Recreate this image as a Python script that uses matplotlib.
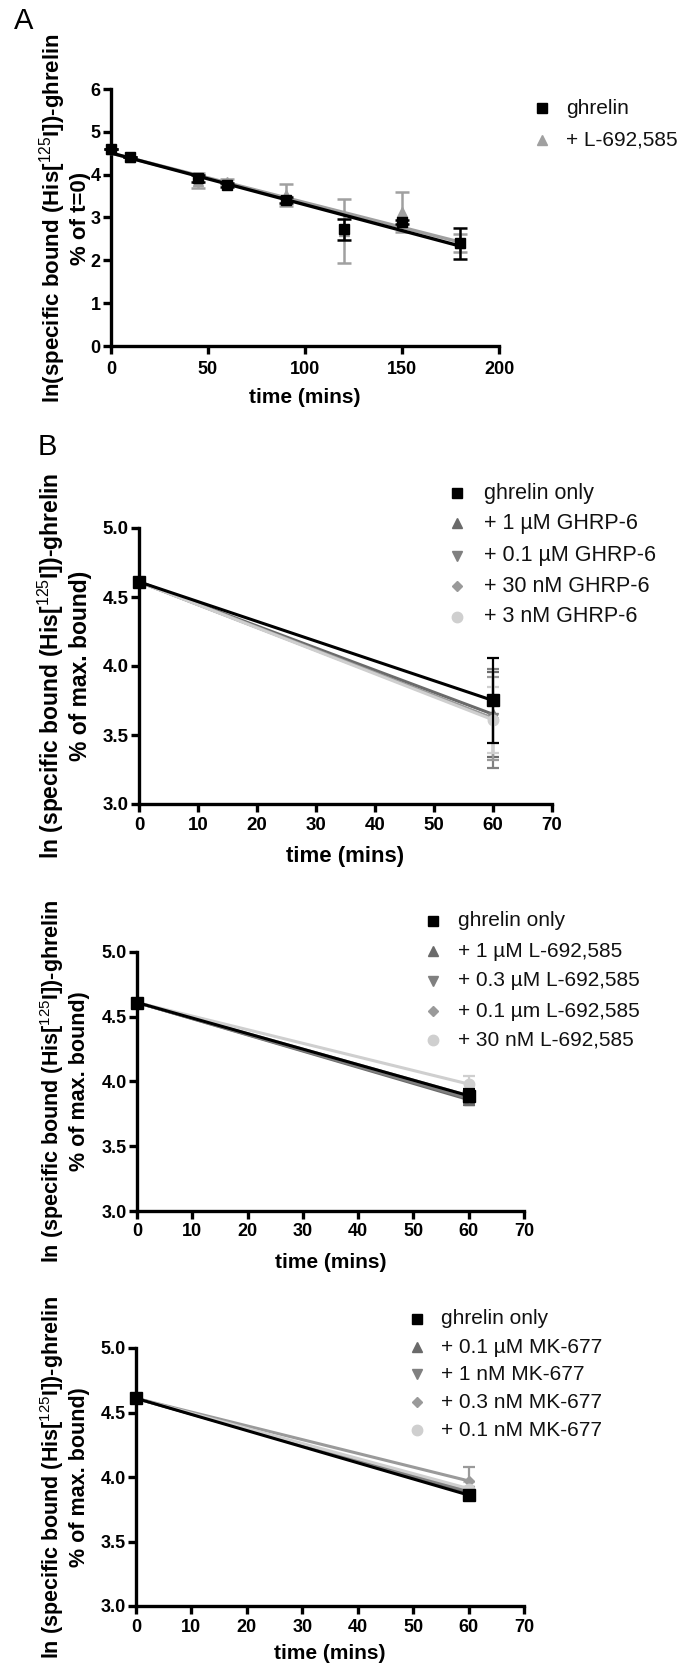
import numpy as np
import matplotlib.pyplot as plt
from matplotlib.lines import Line2D
from matplotlib.ticker import FormatStrFormatter, MultipleLocator

plt.rcParams["font.family"] = ["Liberation Sans", "DejaVu Sans"]
plt.rcParams["mathtext.fontset"] = "custom"
plt.rcParams["mathtext.rm"] = "Liberation Sans"
plt.rcParams["mathtext.it"] = "Liberation Sans:italic"
plt.rcParams["mathtext.bf"] = "Liberation Sans:bold"

W, H = 684, 1667

# --- panel A: ghrelin dissociation over 3 h ---
time_a = [0, 10, 45, 60, 90, 120, 150, 180]
ghrelin_a = [4.60, 4.42, 3.92, 3.76, 3.41, 2.73, 2.90, 2.40]
ghrelin_a_err = [0.0, 0.0, 0.08, 0.04, 0.08, 0.245, 0.05, 0.365]
l692_a = [4.60, 4.42, 3.86, 3.84, 3.52, 2.69, 3.12, 2.41]
l692_a_err = [0.0, 0.0, 0.17, 0.05, 0.26, 0.745, 0.47, 0.21]
labels_a = ["ghrelin", "+ L-692,585"]

# --- panel B: single 60 min time point, three secretagogues ---
time_b = [0, 60]

ghrp6_labels = ["ghrelin only", "+ 1 \u00b5M GHRP-6", "+ 0.1 \u00b5M GHRP-6",
                "+ 30 nM GHRP-6", "+ 3 nM GHRP-6"]
ghrp6_means = [[4.61, 3.75], [4.61, 3.65], [4.61, 3.62], [4.61, 3.62], [4.61, 3.61]]
ghrp6_errs = [[0, 0.305], [0, 0.31], [0, 0.36], [0, 0.30], [0, 0.24]]

l692_labels = ["ghrelin only", "+ 1 \u00b5M L-692,585", "+ 0.3 \u00b5M L-692,585",
               "+ 0.1 \u00b5m L-692,585", "+ 30 nM L-692,585"]
l692_means = [[4.61, 3.89], [4.61, 3.86], [4.61, 3.87], [4.61, 3.89], [4.61, 3.98]]
l692_errs = [[0, 0.05], [0, 0.04], [0, 0.04], [0, 0.03], [0, 0.06]]

mk677_labels = ["ghrelin only", "+ 0.1 \u00b5M MK-677", "+ 1 nM MK-677",
                "+ 0.3 nM MK-677", "+ 0.1 nM MK-677"]
mk677_means = [[4.61, 3.86], [4.61, 3.88], [4.61, 3.89], [4.61, 3.97], [4.61, 3.91]]
mk677_errs = [[0, 0.02], [0, 0.03], [0, 0.03], [0, 0.11], [0, 0.05]]

markers_b = ["s", "^", "v", "D", "o"]
colors_b = ["#000000", "#6a6a6a", "#808080", "#9a9a9a", "#cfcfcf"]
sizes_b = [8, 7, 7, 5.5, 7.5]

ylabel_a = "ln(specific bound (His[$^{125}$I])-ghrelin\n% of t=0)"
ylabel_b = "ln (specific bound (His[$^{125}$I])-ghrelin\n% of max. bound)"


def px_axes(fig, x0, y0, x1, y1):
    return fig.add_axes([x0 / W, 1 - y1 / H, (x1 - x0) / W, (y1 - y0) / H])


def style_axes(ax, tick_size, xpad=3):
    for side in ("top", "right"):
        ax.spines[side].set_visible(False)
    for side in ("left", "bottom"):
        ax.spines[side].set_linewidth(2.4)
    ax.tick_params(direction="out", length=6, width=2.4, labelsize=tick_size)
    ax.tick_params(axis="x", pad=xpad)
    ax.tick_params(axis="y", pad=1.5)
    for lab in ax.get_xticklabels() + ax.get_yticklabels():
        lab.set_fontweight("bold")


def draw_key(fig, x_mark, x_text, rows, labels, markers, colors, sizes, fontsize):
    for y, lab, m, c, s in zip(rows, labels, markers, colors, sizes):
        fig.add_artist(Line2D([x_mark / W], [1 - y / H], marker=m, markersize=s,
                              color=c, markeredgecolor=c, linestyle="none",
                              transform=fig.transFigure))
        fig.text(x_text / W, 1 - y / H, lab, fontsize=fontsize,
                 ha="left", va="center", color="#111111")


def ylabel_text(fig, x, y, text, size):
    fig.text(x / W, 1 - y / H, text, rotation=90, ha="center", va="center",
             multialignment="center", fontsize=size, fontweight="bold",
             linespacing=1.15)


def panel_b(fig, box, means, errs, labels, key, label_x, fs, xlabelpad):
    ax = px_axes(fig, *box)
    order = [1, 2, 3, 4, 0]
    for i in order:
        ax.errorbar(time_b, means[i], yerr=errs[i], color=colors_b[i],
                    marker=markers_b[i], markersize=sizes_b[i],
                    markeredgecolor=colors_b[i], linewidth=2.2,
                    elinewidth=1.6, capsize=4.5, capthick=1.6,
                    clip_on=False, zorder=3 + (i == 0))
    ax.set_xlim(0, 70)
    ax.set_ylim(3.0, 5.0)
    ax.xaxis.set_major_locator(MultipleLocator(10))
    ax.yaxis.set_major_locator(MultipleLocator(0.5))
    ax.yaxis.set_major_formatter(FormatStrFormatter("%.1f"))
    style_axes(ax, fs["tick"])
    ax.set_xlabel("time (mins)", fontsize=fs["xlabel"], fontweight="bold",
                  labelpad=xlabelpad)
    ylabel_text(fig, label_x, (box[1] + box[3]) / 2, ylabel_b, fs["ylabel"])
    draw_key(fig, key[0], key[1], key[2], labels, markers_b, colors_b,
             [7.5, 7, 7, 5.5, 7.5], fs["key"])
    return ax


fig = plt.figure(figsize=(W / 100, H / 100), dpi=100)

# panel A
ax_a = px_axes(fig, 111, 89, 499, 346)
t_fit = np.array([0, 180])
fit_gray = np.polyfit(time_a, l692_a, 1)
fit_black = np.polyfit(time_a, ghrelin_a, 1)
ax_a.plot(t_fit, np.polyval(fit_gray, t_fit), color="#a0a0a0", linewidth=2.4,
          zorder=2)
ax_a.errorbar(time_a, l692_a, yerr=l692_a_err, color="#a0a0a0", marker="^",
              markersize=7.5, linestyle="none", elinewidth=1.8, capsize=5,
              capthick=1.8, clip_on=False, zorder=3)
ax_a.plot(t_fit, np.polyval(fit_black, t_fit), color="black", linewidth=2.4,
          zorder=4)
ax_a.errorbar(time_a, ghrelin_a, yerr=ghrelin_a_err, color="black", marker="s",
              markersize=7, linestyle="none", elinewidth=1.8, capsize=5,
              capthick=1.8, clip_on=False, zorder=5)
ax_a.set_xlim(0, 200)
ax_a.set_ylim(0, 6)
ax_a.xaxis.set_major_locator(MultipleLocator(50))
ax_a.yaxis.set_major_locator(MultipleLocator(1))
style_axes(ax_a, 13, xpad=5)
ax_a.set_xlabel("time (mins)", fontsize=15, fontweight="bold", labelpad=7)
ylabel_text(fig, 64, 218, ylabel_a, 16)
draw_key(fig, 542, 566, [108, 140], labels_a, ["s", "^"],
         ["#000000", "#a0a0a0"], [7.5, 7.5], 15)

fig.text(24 / W, 1 - 21 / H, "A", fontsize=21, ha="center", va="center")
fig.text(47 / W, 1 - 447 / H, "B", fontsize=21, ha="center", va="center")

fs_big = {"tick": 13.5, "xlabel": 16, "ylabel": 16.5, "key": 15.5}
fs_small = {"tick": 13, "xlabel": 15, "ylabel": 15.5, "key": 15}

panel_b(fig, (139, 528, 552, 804), ghrp6_means, ghrp6_errs, ghrp6_labels,
        (457, 484, [493, 523, 556, 586, 617]), 64, fs_big, 9)
panel_b(fig, (137, 952, 524, 1211), l692_means, l692_errs, l692_labels,
        (433, 458, [921, 951, 981, 1011, 1040]), 64, fs_small, 9)
panel_b(fig, (136, 1348, 524, 1606), mk677_means, mk677_errs, mk677_labels,
        (417, 441, [1319, 1347, 1374, 1402, 1430]), 64, fs_small, 6)

fig.savefig("out.png", dpi=100, facecolor="white")
